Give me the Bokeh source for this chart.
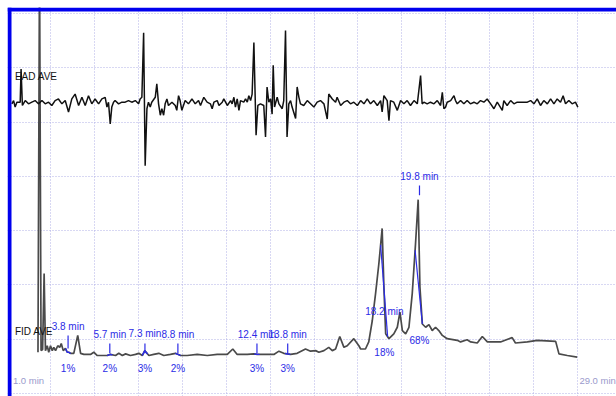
import numpy as np
from bokeh.plotting import figure
from bokeh.models import ColumnDataSource, Label, FixedTicker, BoxAnnotation
from bokeh.core.properties import value
from bokeh.embed import file_html
from bokeh.resources import INLINE

# ---------------- data ----------------
# EAD trace: time (min) and deflection from its resting level
ead_time = [1.24, 1.32, 1.39, 1.47, 1.62, 1.66, 1.72, 1.85, 2.00, 2.15,
            2.30, 2.45, 2.61, 2.76, 2.91, 3.06, 3.21, 3.36, 3.52, 3.67,
            3.82, 3.97, 4.12, 4.28, 4.43, 4.58, 4.73, 4.88, 5.03, 5.19,
            5.34, 5.49, 5.57, 5.64, 5.72, 5.79, 5.87, 5.94, 6.10, 6.25,
            6.40, 6.55, 6.70, 6.86, 7.01, 7.08, 7.16, 7.24, 7.31, 7.39,
            7.46, 7.54, 7.61, 7.77, 7.84, 7.92, 8.00, 8.07, 8.15, 8.22,
            8.30, 8.37, 8.53, 8.68, 8.75, 8.83, 8.90, 8.98, 9.13, 9.28,
            9.44, 9.59, 9.74,
            9.83, 9.98, 10.13, 10.28, 10.36, 10.44, 10.59, 10.67, 10.82, 10.89,
            11.05, 11.20, 11.27, 11.35, 11.42, 11.50, 11.58, 11.65, 11.80, 11.88,
            11.96, 12.03, 12.11, 12.18, 12.26, 12.36, 12.44, 12.56, 12.71, 12.79,
            12.86, 12.94, 13.02, 13.09, 13.14, 13.20, 13.32, 13.40, 13.55, 13.62,
            13.70, 13.77, 13.85, 13.93, 14.00, 14.16, 14.23, 14.31, 14.38, 14.53,
            14.69, 14.84, 14.99, 15.14, 15.29, 15.45, 15.60, 15.67, 15.83, 15.98,
            16.05, 16.21, 16.36, 16.51, 16.66, 16.81, 16.97, 17.12, 17.27, 17.42,
            17.57, 17.72, 17.88, 18.03, 18.10, 18.18, 18.33, 18.41, 18.48, 18.63,
            18.79, 18.94, 19.09, 19.24, 19.39, 19.55, 19.70, 19.85, 19.92, 20.00,
            20.15, 20.30, 20.46, 20.61, 20.76, 20.84, 20.91, 20.99, 21.06, 21.22,
            21.37, 21.44, 21.52, 21.67, 21.82, 21.97, 22.12, 22.28, 22.43, 22.58,
            22.73, 22.88, 23.04, 23.19, 23.34, 23.57, 23.64, 23.79, 23.95, 24.10,
            24.25, 24.40, 24.55, 24.71, 24.86, 25.01, 25.16, 25.31, 25.46, 25.62,
            25.77, 25.92, 26.07, 26.22, 26.34, 26.45, 26.60, 26.75, 26.90, 27.01]
ead_signal = [-0.3, 0.3, -0.9, 0.0, 0.0, 6.1, -0.6, 0.3, -0.3, 0.0,
              0.3, -0.3, 0.3, -0.3, 0.0, -0.6, 0.3, 0.6, -0.3, 0.3,
              -1.8, 0.6, 1.5, -0.6, 0.9, -0.6, 1.2, -0.3, 0.6, -0.3,
              0.6, 0.9, -0.9, 0.0, -4.0, -0.9, 0.0, 0.3, -0.3, 0.0,
              0.0, 0.3, 0.0, 0.3, -0.3, 0.6, 0.9, 12.8, -11.7, -1.2,
              0.0, -0.9, 0.0, 0.9, 3.4, -0.3, -2.4, -1.2, -2.4, -0.3,
              0.6, -0.6, 0.0, -0.6, -1.5, 1.2, 0.3, -1.5, 0.3, -0.3,
              0.6, -0.3, 0.3,
              -0.6, 0.9, 0.0, -0.3, -1.2, 0.0, 0.3, -0.6, 0.0, 0.6,
              -0.6, 0.3, -0.3, 0.9, -0.9, 0.6, -1.5, 0.3, 0.0, 0.6,
              0.0, 1.2, 0.3, 1.5, 11.0, -6.1, -0.6, -0.3, -0.6, -6.4,
              2.8, 0.0, 0.6, -2.2, 6.8, -0.9, 0.9, -0.3, -1.2, 0.3,
              13.2, -6.4, -0.3, 0.3, -0.9, -3.0, 2.8, 0.9, -0.3, -0.6,
              0.3, -0.3, -0.9, 0.0, 0.3, -0.3, -3.1, 1.5, 0.6, 0.0,
              0.9, -0.6, 0.0, 0.3, -0.3, 0.0, -0.6, 0.3, -0.3, 0.6,
              -0.3, 0.3, -0.6, 0.3, -1.8, 1.2, 0.3, -3.4, 0.3, 0.0,
              -1.5, 0.3, -0.3, 0.3, -0.6, 0.3, -0.3, 4.9, -0.3, 0.0,
              -0.3, 0.0, -0.3, 0.3, -0.6, 1.8, -1.2, -0.9, 0.0, 0.3,
              1.2, 0.3, -0.3, 0.3, -0.3, 0.3, -0.3, 0.0, -0.3, 0.3,
              0.0, 0.6, -0.3, -1.2, 0.0, -1.5, 0.3, -0.6, 0.3, -0.3,
              0.0, 0.0, 0.0, 0.0, 0.3, -0.3, 0.6, -0.6, 0.3, -0.3,
              0.6, -0.3, 0.6, 0.0, 1.2, -0.3, 0.3, -0.3, 0.0, -0.9]

# FID trace: time (min) and detector response
fid_time = [2.43, 2.50, 2.57, 2.64, 2.71, 2.77, 2.85, 2.92, 3.00, 3.08,
            3.15, 3.23, 3.33, 3.42, 3.49, 3.58, 3.68, 3.76, 3.83, 3.91,
            4.06, 4.24, 4.37, 4.52, 4.82, 4.97, 5.13, 5.58, 5.73, 5.96,
            6.11, 6.27, 6.42, 6.64, 6.87, 7.02, 7.18, 7.29, 7.48, 7.70,
            7.93, 8.16, 8.46, 8.69, 8.92, 9.22, 9.68, 10.14, 10.59, 11.05,
            11.30, 11.50, 11.96, 12.26, 12.41, 12.87, 13.17, 13.40, 13.62, 13.93,
            14.23, 14.61, 14.84, 15.07, 15.22, 15.45, 15.67, 15.83, 15.98, 16.17,
            16.36, 16.51, 16.81, 17.04, 17.12, 17.34, 17.49, 17.65, 17.80, 17.95,
            18.10, 18.18, 18.26, 18.41, 18.63, 18.79, 18.91, 19.02, 19.17, 19.32,
            19.47, 19.62, 19.74, 19.82, 19.93, 20.08, 20.23, 20.38, 20.53, 20.68,
            20.84, 21.06, 21.52, 21.67, 21.97, 22.13, 22.43, 22.66, 22.89, 23.49,
            24.02, 24.17, 24.71, 25.16, 26.00, 26.15, 26.53, 26.98]
fid_signal = [7.6, 80.0, 7.9, 8.1, 22.1, 7.9, 8.8, 7.6, 8.8, 7.9,
              8.5, 7.9, 8.8, 8.5, 9.2, 7.9, 8.3, 7.6, 7.6, 7.4,
              7.4, 10.7, 7.4, 7.2, 7.2, 7.6, 7.0, 7.0, 7.2, 7.0,
              7.4, 7.0, 7.3, 7.0, 7.2, 7.4, 7.0, 7.9, 7.0, 7.2,
              7.4, 7.0, 7.2, 7.4, 7.0, 7.0, 7.2, 7.0, 7.2, 7.2,
              8.2, 7.2, 7.2, 7.3, 7.2, 7.2, 7.2, 7.8, 7.4, 7.2,
              7.4, 8.2, 7.8, 7.9, 7.6, 7.9, 8.5, 7.9, 8.2, 10.5,
              8.5, 8.8, 10.1, 8.8, 8.2, 8.2, 9.5, 13.4, 18.4, 23.9,
              30.4, 19.6, 11.0, 10.1, 11.0, 12.2, 15.0, 11.6, 11.0, 12.2,
              18.4, 27.6, 35.7, 19.6, 12.8, 12.2, 12.7, 11.6, 12.2, 11.6,
              10.7, 10.1, 9.8, 9.5, 9.9, 9.5, 9.3, 10.5, 9.5, 9.5,
              10.3, 9.3, 9.5, 9.8, 9.6, 7.3, 7.0, 6.7]

# marked peaks
peak_time = [3.8, 5.7, 7.3, 8.8, 12.4, 13.8, 18.2, 19.8]
peak_label = ["3.8 min", "5.7 min", "7.3 min", "8.8 min",
              "12.4 min", "13.8 min", "18.2 min", "19.8 min"]
peak_pct = ["1%", "2%", "3%", "2%", "3%", "3%", "18%", "68%"]

axis_start_label = "1.0 min"
axis_end_label = "29.0 min"

# ---------------- layout / style ----------------
EAD_OFFSET = 53.65
BLUE = "#2b2be6"
FONT_NAME = "Liberation Sans"
FONT = value(FONT_NAME)
X0, X1 = 1.042, 28.77
Y0, Y1 = -0.55, 71.09
PX_PER_MIN = 21.96
PX_PER_UNIT = 5.43

name_y = [12.3, 10.9, 11.1, 10.9, 10.9, 10.9, 15.1, 40.0]
pct_y = [4.6, 4.6, 4.6, 4.6, 4.6, 4.6, 7.55, 9.76]
tick_top = [10.7, 9.2, 9.2, 9.2, 9.2, 9.2, None, 38.3]
tick_bot = [8.3, 7.4, 7.4, 7.4, 7.4, 7.4, None, 36.5]
chord = {6: (18.03, 18.35), 7: (19.60, 19.93)}

p = figure(width=616, height=396, x_range=(X0, X1), y_range=(Y0, Y1),
           output_backend="svg", toolbar_location=None,
           min_border_left=7, min_border_top=7, min_border_right=0, min_border_bottom=0,
           border_fill_color="white", background_fill_color="white",
           outline_line_color=None)
p.xaxis.visible = False
p.yaxis.visible = False
p.xgrid.ticker = FixedTicker(ticks=list(range(1, 31, 2)))
p.ygrid.ticker = FixedTicker(ticks=list(range(0, 80, 10)))
for g in (p.xgrid, p.ygrid):
    g.grid_line_color = "#b0b0e6"
    g.grid_line_dash = "1 2"
    g.grid_line_width = 1

# blue frame strips (left and top)
p.add_layout(BoxAnnotation(left=X0, right=X0 + 4 / PX_PER_MIN, fill_color="#0000ee",
                           fill_alpha=1, line_color=None, level="overlay"))
p.add_layout(BoxAnnotation(bottom=Y1 - 4 / PX_PER_UNIT, top=Y1, fill_color="#0000ee",
                           fill_alpha=1, line_color=None, level="overlay"))

# FID trace
p.line(fid_time, fid_signal, line_color="#4a4a4a", line_width=1.7)

# EAD trace
ead_y = [EAD_OFFSET + v for v in ead_signal]
p.line(ead_time, ead_y, line_color="#111111", line_width=1.5)

# blue peak highlights
ft = np.array(fid_time)
fs = np.array(fid_signal)
for i, pt in enumerate(peak_time):
    if i in chord:
        a, b = chord[i]
        p.line([a, b], [float(np.interp(a, ft, fs)), float(np.interp(b, ft, fs))],
               line_color=BLUE, line_width=1.2)
    else:
        tt = np.linspace(pt - 0.12, pt + 0.12, 9)
        p.line(tt, np.interp(tt, ft, fs), line_color=BLUE, line_width=1.4)
    if tick_top[i] is not None:
        p.segment(x0=[pt], y0=[tick_bot[i]], x1=[pt], y1=[tick_top[i]],
                  line_color=BLUE, line_width=1.2)

src = ColumnDataSource(dict(x=peak_time, name=peak_label, pct=peak_pct,
                            ny=name_y, py=pct_y))
p.text(x="x", y="ny", text="name", source=src, text_color=BLUE,
       text_font=FONT, text_font_size="10px", text_align="center",
       text_baseline="middle")
p.text(x="x", y="py", text="pct", source=src, text_color=BLUE,
       text_font=FONT, text_font_size="10px", text_align="center",
       text_baseline="middle")

p.add_layout(Label(x=1.38, y=58.4, text="EAD AVE", text_font=FONT_NAME,
                   text_font_size="10px", text_color="#111111", text_baseline="middle"))
p.add_layout(Label(x=1.38, y=11.4, text="FID AVE", text_font=FONT_NAME,
                   text_font_size="10px", text_color="#111111", text_baseline="middle"))
p.add_layout(Label(x=1.29, y=2.4, text=axis_start_label, text_font=FONT_NAME,
                   text_font_size="9.5px", text_color="#9a9acc", text_baseline="middle"))
p.add_layout(Label(x=27.08, y=2.4, text=axis_end_label, text_font=FONT_NAME,
                   text_font_size="9.5px", text_color="#9a9acc", text_baseline="middle"))

open("out.html", "w").write(file_html(p, INLINE))
